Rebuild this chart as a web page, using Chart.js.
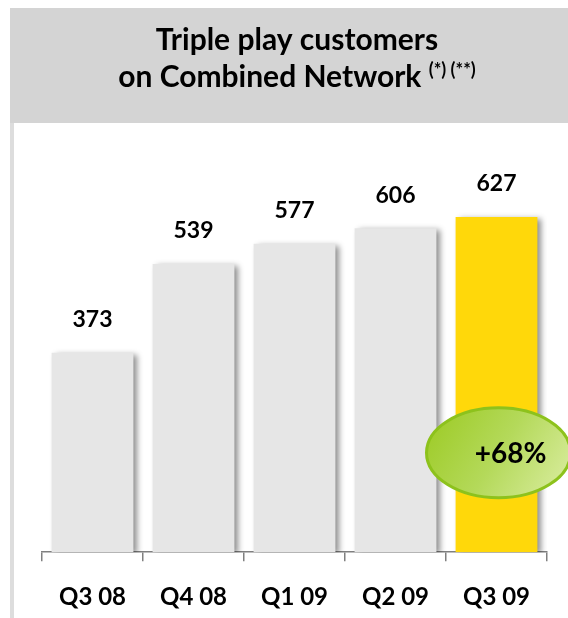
<!DOCTYPE html>
<html>
<head>
<meta charset="utf-8">
<script src="https://cdn.jsdelivr.net/npm/chart.js@4/dist/chart.umd.min.js"></script>
<style>
  html, body { margin: 0; padding: 0; background: #fff; }
  #wrap { width: 568px; height: 618px; position: relative; }
</style>
</head>
<body>
<div id="wrap"><canvas id="chart" width="568" height="618"></canvas></div>
<script>
// Data
const quarters = ['Q3 08', 'Q4 08', 'Q1 09', 'Q2 09', 'Q3 09'];
const customers = [373, 539, 577, 606, 627];
const barColors = ['#e6e6e6', '#e6e6e6', '#e6e6e6', '#e6e6e6', '#ffd80a'];
const titleLines = ['Triple play customers', 'on Combined Network'];
const titleNote = '(*) (**)';
const growthLabel = '+68%';

const FONT = 'Lato, "Open Sans", sans-serif';

// grey header band + left rule + title
const headerPlugin = {
    id: 'header',
    beforeDraw(chart) {
        const ctx = chart.ctx;
        ctx.save();
        ctx.fillStyle = '#d4d4d4';
        ctx.fillRect(10, 8, 558, 115);
        ctx.fillStyle = '#dddddd';
        ctx.fillRect(10, 123, 4, 495);

        ctx.fillStyle = '#000';
        ctx.textBaseline = 'alphabetic';
        ctx.textAlign = 'center';
        ctx.font = 'bold 30px ' + FONT;
        ctx.fillText(titleLines[0], 297, 50);

        // second line with superscript note
        ctx.textAlign = 'left';
        const mainW = ctx.measureText(titleLines[1] + ' ').width;
        ctx.font = 'bold 18px ' + FONT;
        const noteW = ctx.measureText(titleNote).width;
        const x0 = 297 - (mainW + noteW) / 2;
        ctx.font = 'bold 30px ' + FONT;
        ctx.fillText(titleLines[1] + ' ', x0, 87);
        ctx.font = 'bold 18px ' + FONT;
        ctx.fillText(titleNote, x0 + mainW, 76);
        ctx.restore();
    }
};

// soft shadow behind the bars
const shadowPlugin = {
    id: 'barShadow',
    beforeDatasetsDraw(chart) {
        const ctx = chart.ctx;
        ctx.save();
        ctx.shadowColor = 'rgba(0,0,0,0.45)';
        ctx.shadowBlur = 6;
        ctx.shadowOffsetX = 4;
        ctx.shadowOffsetY = 2;
    },
    afterDatasetsDraw(chart) {
        chart.ctx.restore();
    }
};

// value labels above bars + growth bubble
const labelPlugin = {
    id: 'labels',
    afterDraw(chart) {
        const ctx = chart.ctx;
        const meta = chart.getDatasetMeta(0);
        ctx.save();
        ctx.fillStyle = '#000';
        ctx.font = 'bold 23px ' + FONT;
        ctx.textAlign = 'center';
        ctx.textBaseline = 'middle';
        meta.data.forEach((bar, i) => {
            ctx.fillText(String(customers[i]), bar.x, bar.y - 33);
        });

        // growth ellipse on the last bar
        const last = meta.data[meta.data.length - 1];
        const cx = last.x + 2;
        const cy = chart.scales.y.getPixelForValue(186);
        const rx = 72, ry = 45;
        const g = ctx.createLinearGradient(cx - rx, cy - ry, cx + rx, cy + ry);
        g.addColorStop(0, '#9bca22');
        g.addColorStop(0.5, '#b4d95a');
        g.addColorStop(1, '#dceea4');
        ctx.beginPath();
        ctx.ellipse(cx, cy, rx, ry, 0, 0, Math.PI * 2);
        ctx.fillStyle = g;
        ctx.fill();
        ctx.lineWidth = 3;
        ctx.strokeStyle = '#8dc21c';
        ctx.stroke();

        ctx.fillStyle = '#000';
        ctx.font = 'bold 28px ' + FONT;
        ctx.fillText(growthLabel, cx + 12, cy + 1);
        ctx.restore();
    }
};

new Chart(document.getElementById('chart'), {
    type: 'bar',
    data: {
        labels: quarters,
        datasets: [{
            data: customers,
            backgroundColor: barColors,
            borderWidth: 0,
            barPercentage: 0.81,
            categoryPercentage: 1
        }]
    },
    options: {
        responsive: false,
        animation: false,
        layout: { padding: { top: 178, left: 42, right: 21, bottom: -16 } },
        plugins: { legend: { display: false }, tooltip: { enabled: false } },
        scales: {
            x: {
                grid: { display: true, drawOnChartArea: false, color: '#808080', tickLength: 9, lineWidth: 1.5 },
                border: { display: true, color: '#808080', width: 1.5 },
                ticks: { color: '#000', font: { family: FONT, size: 24, weight: 'bold' }, padding: 22 }
            },
            y: { display: false, min: 0, max: 700 }
        }
    },
    plugins: [headerPlugin, shadowPlugin, labelPlugin]
});
</script>
</body>
</html>
